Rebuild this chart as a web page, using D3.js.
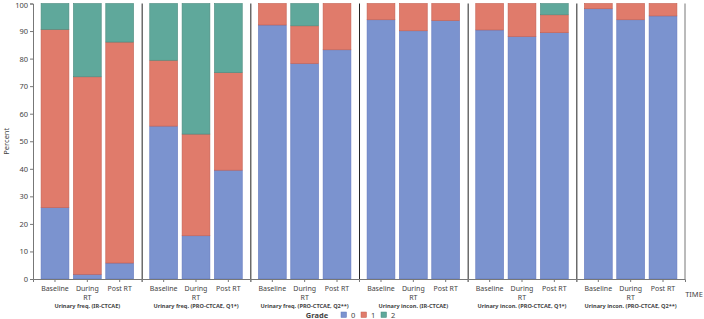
<!DOCTYPE html>
<html>
<head>
<meta charset="utf-8">
<script src="https://cdn.jsdelivr.net/npm/d3@7"></script>
<style>
  body { margin: 0; background: #fff; }
  text { font-family: "Noto Sans", "Open Sans", sans-serif; fill: #444; }
</style>
</head>
<body>
<div id="chart"></div>
<script>
// donnees (pourcentages par grade)
const groups = [
  "Urinary freq. (IR-CTCAE)",
  "Urinary freq. (PRO-CTCAE, Q1*)",
  "Urinary freq. (PRO-CTCAE, Q2**)",
  "Urinary incon. (IR-CTCAE)",
  "Urinary incon. (PRO-CTCAE, Q1*)",
  "Urinary incon. (PRO-CTCAE, Q2**)"
];
const times = ["Baseline", "During RT", "Post RT"];
const grades = ["0", "1", "2"];
// une ligne par groupe, une valeur par temps
const grade0 = [
  [25.9, 1.7, 5.8],
  [55.5, 15.7, 39.5],
  [92.2, 78.2, 83.2],
  [94.1, 90.1, 93.8],
  [90.4, 88.0, 89.4],
  [98.1, 94.1, 95.5]
];
const grade1 = [
  [64.7, 71.7, 80.2],
  [23.9, 36.9, 35.4],
  [7.8, 13.7, 16.8],
  [5.9, 9.9, 6.2],
  [9.6, 12.0, 6.5],
  [1.9, 5.9, 4.5]
];
const grade2 = [
  [9.4, 26.6, 14.0],
  [20.6, 47.4, 25.1],
  [0, 8.1, 0],
  [0, 0, 0],
  [0, 0, 4.1],
  [0, 0, 0]
];
const yTicks = [0, 10, 20, 30, 40, 50, 60, 70, 80, 90, 100];

const colors = { "0": "#7b93cf", "1": "#e07b6b", "2": "#5fa89b" };
const strokes = { "0": "#6277bd", "1": "#c45f50", "2": "#4a8a7e" };

const W = 704, H = 319;
const mLeft = 33, mRight = 685, mTop = 3.5, mBottom = 279;

const svg = d3.select("#chart").append("svg")
  .attr("width", W).attr("height", H);

// echelles
const xg = d3.scaleBand().domain(groups).range([mLeft, mRight]).padding(0);
const xt = d3.scaleBand().domain(times).range([0, xg.bandwidth()])
  .paddingInner(0.14).paddingOuter(0.25);
const y = d3.scaleLinear().domain([0, 100]).range([mBottom, mTop]);

// table empilee
const rows = [];
groups.forEach((g, i) => {
  times.forEach((t, j) => {
    rows.push({ group: g, time: t, "0": grade0[i][j], "1": grade1[i][j], "2": grade2[i][j] });
  });
});
const series = d3.stack().keys(grades)(rows);

// barres
const bars = svg.append("g");
series.forEach(s => {
  bars.append("g").selectAll("rect")
    .data(s.filter(d => d[1] - d[0] > 0))
    .join("rect")
      .attr("x", d => xg(d.data.group) + xt(d.data.time))
      .attr("width", xt.bandwidth())
      .attr("y", d => y(d[1]))
      .attr("height", d => y(d[0]) - y(d[1]))
      .attr("fill", colors[s.key])
      .attr("stroke", strokes[s.key])
      .attr("stroke-width", 0.6);
});

// axe Y
const yAxis = svg.append("g")
  .attr("transform", `translate(${mLeft},0)`)
  .call(d3.axisLeft(y).tickValues(yTicks).tickSize(3).tickPadding(2));
yAxis.select(".domain").attr("stroke", "#777");
yAxis.selectAll(".tick line").attr("stroke", "#777");
yAxis.selectAll("text").style("font-size", "7.5px").attr("fill", "#444");
yAxis.selectAll(".tick").filter(d => d === 100).select("text").attr("dy", "0.5em");

svg.append("text")
  .attr("transform", `translate(9,${(mTop + mBottom) / 2}) rotate(-90)`)
  .attr("text-anchor", "middle")
  .style("font-size", "7.5px")
  .text("Percent");

// axe X (par groupe)
groups.forEach(g => {
  const ax = svg.append("g")
    .attr("transform", `translate(${xg(g)},${mBottom})`)
    .call(d3.axisBottom(xt).tickSize(3).tickFormat(""));
  ax.select(".domain").attr("stroke", "#777");
  ax.selectAll(".tick line").attr("stroke", "#777");
  times.forEach(t => {
    const words = t === "During RT" ? ["During", "RT"] : [t];
    const tx = ax.append("text")
      .attr("x", xt(t) + xt.bandwidth() / 2)
      .attr("y", 12)
      .attr("text-anchor", "middle")
      .style("font-size", "7px")
      .attr("fill", "#444");
    words.forEach((w, k) => {
      tx.append("tspan").attr("x", xt(t) + xt.bandwidth() / 2)
        .attr("dy", k === 0 ? 0 : 8.5).text(w);
    });
  });
  svg.append("text")
    .attr("x", xg(g) + xg.bandwidth() / 2)
    .attr("y", 307.5)
    .attr("text-anchor", "middle")
    .style("font-size", "5.6px")
    .style("font-weight", "bold")
    .attr("fill", "#222")
    .text(g);
});

// separateurs de panneaux
svg.append("g").selectAll("line")
  .data(groups.slice(1))
  .join("line")
    .attr("x1", d => xg(d) + 0.5).attr("x2", d => xg(d) + 0.5)
    .attr("y1", mTop).attr("y2", mBottom)
    .attr("stroke", "#222").attr("stroke-width", 1);
svg.append("line")
  .attr("x1", mRight).attr("x2", mRight)
  .attr("y1", mTop).attr("y2", mBottom)
  .attr("stroke", "#777");

svg.append("text")
  .attr("x", 694).attr("y", 297)
  .attr("text-anchor", "middle")
  .style("font-size", "7.5px")
  .text("TIME");

// legende
const leg = svg.append("g").attr("transform", "translate(0,318)");
leg.append("text").attr("x", 317).attr("y", 0)
  .attr("text-anchor", "middle")
  .style("font-size", "7.5px").style("font-weight", "bold")
  .attr("fill", "#333")
  .text("Grade");
const legX = [341, 361, 381];
grades.forEach((g, i) => {
  leg.append("rect").attr("x", legX[i]).attr("y", -6)
    .attr("width", 5.5).attr("height", 5.5)
    .attr("fill", colors[g]).attr("stroke", strokes[g]).attr("stroke-width", 0.5);
  leg.append("text").attr("x", legX[i] + 10).attr("y", 0)
    .style("font-size", "7.5px").text(g);
});
</script>
</body>
</html>
